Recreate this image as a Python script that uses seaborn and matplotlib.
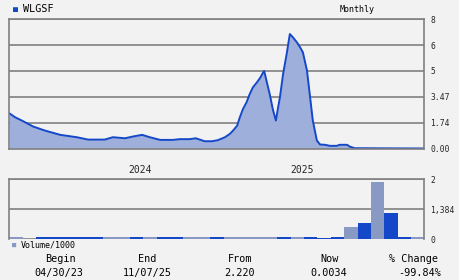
import numpy as np
import pandas as pd
import matplotlib
matplotlib.use("Agg")
import matplotlib.pyplot as plt
import seaborn as sns

# ---------------- data ----------------
price_dates = [
    "2023-04-30", "2023-05-13", "2023-05-28", "2023-06-22", "2023-07-18", "2023-08-21",
    "2023-09-27", "2023-10-22", "2023-11-28", "2023-12-16", "2024-01-12", "2024-01-30",
    "2024-02-19", "2024-03-07", "2024-03-30", "2024-04-27", "2024-05-13", "2024-06-04",
    "2024-06-17", "2024-07-07", "2024-07-23", "2024-08-05", "2024-08-21", "2024-09-01",
    "2024-09-08", "2024-09-17", "2024-09-23", "2024-09-30", "2024-10-08", "2024-10-15",
    "2024-10-22", "2024-10-31", "2024-11-07", "2024-11-13", "2024-11-16", "2024-11-22",
    "2024-11-29", "2024-12-05", "2024-12-12", "2024-12-17", "2024-12-21", "2024-12-28",
    "2025-01-05", "2025-01-12", "2025-01-19", "2025-01-28", "2025-02-04", "2025-02-10",
    "2025-02-19", "2025-02-26", "2025-03-04", "2025-03-13", "2025-03-20", "2025-03-31",
    "2025-04-11", "2025-04-26", "2025-05-03", "2025-05-19", "2025-05-25", "2025-06-05",
    "2025-08-22", "2025-11-07",
]
price_values = [
    2.37, 2.10, 1.88, 1.48, 1.21, 0.92,
    0.76, 0.60, 0.60, 0.76, 0.69, 0.81,
    0.92, 0.76, 0.58, 0.58, 0.63, 0.63,
    0.69, 0.49, 0.49, 0.56, 0.76, 0.99,
    1.21, 1.54, 2.10, 2.66, 3.11, 3.64,
    4.03, 4.33, 4.59, 4.88, 5.00, 4.33,
    3.55, 2.66, 1.88, 2.77, 3.44, 4.82,
    5.66, 6.86, 6.60, 6.20, 5.91, 5.72,
    5.02, 3.44, 1.88, 0.54, 0.27, 0.25,
    0.18, 0.18, 0.25, 0.25, 0.13, 0.02,
    0.01, 0.0034,
]

vol_months = [
    "2023-05", "2023-06", "2023-07", "2023-08", "2023-09", "2023-10", "2023-11", "2023-12",
    "2024-01", "2024-02", "2024-03", "2024-04", "2024-05", "2024-06", "2024-07", "2024-08",
    "2024-09", "2024-10", "2024-11", "2024-12", "2025-01", "2025-02", "2025-03", "2025-04",
    "2025-05", "2025-06", "2025-07", "2025-08", "2025-09", "2025-10", "2025-11",
]
vol_values = [
    0.08, 0.0, 0.09, 0.09, 0.09, 0.09, 0.09, 0.09,
    0.09, 0.09, 0.09, 0.09, 0.09, 0.09, 0.09, 0.09,
    0.09, 0.09, 0.09, 0.09, 0.09, 0.09, 0.09, 0.05,
    0.09, 0.55, 0.75, 1.94, 1.21, 0.09, 0.09,
]
vol_up = [
    0, 0, 1, 1, 1, 1, 1, 0,
    0, 1, 0, 1, 1, 0, 0, 1,
    0, 0, 0, 0, 1, 0, 1, 1,
    1, 0, 1, 0, 1, 1, 0,
]

price_ticks = [0, 1.74, 3.47, 5, 6, 8]
price_tick_labels = ["0.00", "1.74", "3.47", "5", "6", "8"]
vol_ticks = [0, 1.384, 2]
vol_tick_labels = ["0", "1,384", "2"]
year_tick_dates = ["2024-02-14", "2025-02-09"]
year_tick_labels = ["2024", "2025"]

ticker = "WLGSF"
period = "Monthly"
summary_heads = ["Begin", "End", "From", "Now", "% Change"]
summary_vals = ["04/30/23", "11/07/25", "2.220", "0.0034", "-99.84%"]

# ---------------- style ----------------
BG = "#f2f2f2"
GRID = "#808080"
LINE = "#1448c8"
FILL = "#9eafdc"
VOL_LIGHT = "#8899c4"
VOL_DARK = "#1448c8"
MONO = ["DejaVu Sans Mono"]

sns.set_style("white")
plt.rcParams["font.family"] = MONO
plt.rcParams["text.color"] = "black"

fig = plt.figure(figsize=(4.6, 2.8), dpi=100, facecolor=BG)
ax = fig.add_axes([0.0202, 0.4696, 0.9026, 0.4615])
axv = fig.add_axes([0.0202, 0.1464, 0.9026, 0.2143])
for a in (ax, axv):
    a.set_facecolor(BG)
    for s in a.spines.values():
        s.set_color(GRID)
        s.set_linewidth(1.2)

# ---------------- price panel ----------------
pf = [0, 1, 2, 3, 4, 5]
ax.set_yscale("function",
              functions=(lambda v: np.interp(v, price_ticks, pf),
                         lambda p: np.interp(p, pf, price_ticks)))

df = pd.DataFrame({"date": pd.to_datetime(price_dates), "price": price_values})
ax.fill_between(df["date"], 0, df["price"], color=FILL, lw=0)
sns.lineplot(data=df, x="date", y="price", ax=ax, color=LINE, lw=1.4)
ax.set_xlim(pd.Timestamp("2023-04-30"), pd.Timestamp("2025-11-07"))
ax.set_ylim(0, 8)
ax.set_xlabel("")
ax.set_ylabel("")
ax.yaxis.tick_right()
ax.set_yticks(price_ticks)
ax.set_yticklabels(price_tick_labels)
ax.tick_params(axis="y", length=0, pad=4, labelsize=5.8)
ax.set_xticks(pd.to_datetime(year_tick_dates))
ax.set_xticklabels(year_tick_labels)
ax.tick_params(axis="x", length=0, pad=12, labelsize=7)
ax.grid(axis="y", color=GRID, lw=1.2)
ax.grid(axis="x", visible=False)

fig.text(15 / 460, 1 - 9 / 280, "\u25a0", color=LINE, fontsize=6, ha="center", va="center")
fig.text(23 / 460, 1 - 9.5 / 280, ticker, fontsize=7.3, ha="left", va="center")
fig.text(357 / 460, 1 - 9.5 / 280, period, fontsize=6, ha="center", va="center")

# ---------------- volume panel ----------------
vf = [0, 1, 2]
axv.set_yscale("function",
               functions=(lambda v: np.interp(v, vol_ticks, vf),
                          lambda p: np.interp(p, vf, vol_ticks)))
vdf = pd.DataFrame({"month": vol_months, "vol": vol_values})
bar_colors = [VOL_DARK if u else VOL_LIGHT for u in vol_up]
sns.barplot(data=vdf, x="month", y="vol", hue="month", palette=bar_colors,
            legend=False, width=1.0, ax=axv, saturation=1, linewidth=0)
axv.set_xlim(-0.5, len(vol_months) - 0.5)
axv.set_ylim(0, 2)
axv.set_xlabel("")
axv.set_ylabel("")
axv.set_xticks([])
axv.yaxis.tick_right()
axv.set_yticks(vol_ticks)
axv.set_yticklabels(vol_tick_labels)
axv.tick_params(axis="y", length=0, pad=4, labelsize=5.8)
axv.grid(axis="y", color=GRID, lw=1.2)
axv.spines["bottom"].set_visible(False)

fig.text(14.5 / 460, 1 - 245 / 280, "\u25a0", color=VOL_LIGHT, fontsize=5, ha="center", va="center")
fig.text(21 / 460, 1 - 245 / 280, "Volume/1000", fontsize=6, ha="left", va="center")

# ---------------- summary row ----------------
head_x = [60, 147, 240, 330, 414]
val_x = [59, 147, 240, 329, 420]
for hx, vx, h, v in zip(head_x, val_x, summary_heads, summary_vals):
    fig.text(hx / 460, 1 - 259 / 280, h, fontsize=7.3, ha="center", va="center")
    fig.text(vx / 460, 1 - 273 / 280, v, fontsize=7.3, ha="center", va="center")

fig.savefig("out.png", dpi=100, facecolor=BG)
